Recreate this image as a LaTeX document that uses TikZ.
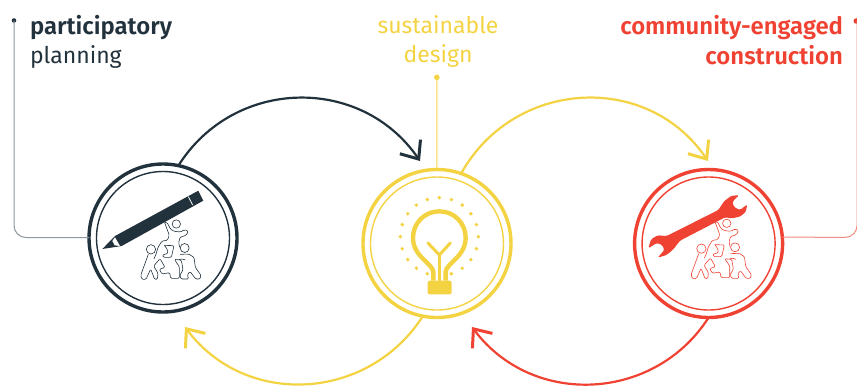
\documentclass[tikz,border=0pt]{standalone}
\usepackage{fontspec}
\setmainfont{Fira Sans SemiBold}
\newfontfamily\lightfont{Fira Sans}
\usetikzlibrary{arrows.meta}
\definecolor{cdark}{HTML}{22323D}
\definecolor{cyel}{HTML}{F4D343}
\definecolor{cred}{HTML}{F04232}
\definecolor{cgrey}{HTML}{8E989E}
\definecolor{cpink}{HTML}{F28B80}
\tikzset{
  outerring/.style={circle,draw=#1,line width=3.4pt,minimum size=148pt,inner sep=0pt,outer sep=0pt},
  innerring/.style={circle,draw=#1,line width=1.4pt,minimum size=133pt,inner sep=0pt,outer sep=0pt},
  flow/.style={draw=#1,line width=2.2pt,-{Straight Barb[length=15pt,width=25pt,line width=3pt]}},
  leader/.style={draw=#1,line width=1pt,rounded corners=12pt},
  enddot/.style={circle,fill=#1,inner sep=0pt,minimum size=5pt,outer sep=0pt},
  bigcap/.style={inner sep=0pt,outer sep=0pt,font=\fontsize{23.9pt}{29.5pt}\selectfont,text=#1},
  lightcap/.style={inner sep=0pt,outer sep=0pt,font=\fontsize{23pt}{29.5pt}\selectfont\lightfont,text=#1},
  pics/people/.style={code={
    \begin{scope}[scale=1/3,draw=#1,line width=0.6pt,rounded corners=1.2pt,line join=round]
      \draw (289,192) circle[radius=12.5];
      \draw (213,268) circle[radius=14];
      \draw (314,264) circle[radius=13.5];
      \draw (254,188) -- (261,187) -- (272,208) -- (283,214) -- (301,216) -- (314,209) -- (325,214) -- (318,226) -- (300,232) -- (296,248) -- (299,262);
      \draw (254,188) -- (268,226) -- (262,241) -- (246,243) -- (234,262) -- (228,283) -- (222,296);
      \draw (205,283) -- (182,346) -- (186,358) -- (198,358) -- (212,327) -- (224,358) -- (232,358) -- (234,340) -- (221,318) -- (240,296) -- (255,322) -- (238,328) -- (246,342) -- (269,338) -- (272,355) -- (298,355) -- (298,320) -- (283,298) -- (298,300) -- (304,296) -- (316,300);
      \draw (253,256) -- (282,257) -- (274,292) -- (250,292) -- (247,285) -- (264,280) -- (262,268) -- (253,256);
      \draw (300,283) -- (326,282) -- (342,292) -- (346,322) -- (363,346) -- (360,357) -- (347,357) -- (330,334) -- (322,345) -- (326,357) -- (304,357) -- (299,347) -- (309,330) -- (304,300) -- (298,300);
    \end{scope}
  }}
}
\begin{document}
\begin{tikzpicture}[x=1pt,y=-1pt]
\useasboundingbox (0,0) rectangle (857,386);
\clip (0,0) rectangle (857,386);

% rings
\node[outerring=cdark] (dark) at (163,238) {};
\node[innerring=cdark] (darkin) at (163,238) {};
\node[outerring=cyel] (yellow) at (437,243.5) {};
\node[innerring=cyel] (yellowin) at (437,243.5) {};
\node[outerring=cred] (red) at (708.6,243.5) {};
\node[innerring=cred] (redin) at (708.6,243.5) {};

% free ends of connectors
\coordinate (tipA) at (420,161);
\coordinate (tipB) at (708,161);
\coordinate (tipC) at (185,327);
\coordinate (tipD) at (472,327);

% connectors
\path[flow=cdark] (dark.78) .. controls (234,77.5) and (361,75) .. (tipA);
\path[flow=cyel] (yellow.71) .. controls (514,78.8) and (647.4,71.6) .. (tipB);
\path[flow=cyel] (yellow.259) .. controls (368,401.6) and (245.6,407.8) .. (tipC);
\path[flow=cred] (red.270) .. controls (655,401.6) and (532.6,407.8) .. (tipD);

% leaders
\node[enddot=cdark,minimum size=4.6pt] (dotA) at (14,20.5) {};
\node[enddot=cyel,minimum size=5.6pt] (dotB) at (436.8,77.3) {};
\node[enddot=cred,minimum size=5.6pt] (dotC) at (856.3,21) {};
\coordinate (cornerA) at (14,237.5);
\coordinate (cornerC) at (857,237.5);
\path[leader=cgrey] (dotA.center) -- (cornerA) -- (dark.west |- cornerA);
\path[leader=cyel] (dotB.center) -- (yellow.north);
\path[leader=cpink] (red.5) -- (cornerC) -- (dotC.center -| cornerC);

% captions
\node[bigcap=cdark,anchor=north west] (capA) at (30,15) {participatory};
\node[lightcap=cdark,anchor=north west] (capA2) at (30,45.5) {planning};
\node[lightcap=cyel,anchor=north,align=center] (capB) at (438,15.5) {sustainable\\design};
\node[bigcap=cred,anchor=north east,align=right] (capC) at (843,15.5) {community-engaged\\construction};

% pencil
\begin{scope}[shift={(80,160)},scale=1/3]
  \fill[cdark] (67,267) -- (105,228) -- (355,92) -- (370,122) -- (125,258) -- cycle;
  \fill[white] (105,232) -- (97,243) -- (104,256) -- (120,258) -- cycle;
  \draw[white,line width=0.8pt] (325,110) -- (338,135);
\end{scope}
\pic at (80,160) {people=cdark};

% bulb
\begin{scope}[shift={(355,160)},scale=1/3,cyel]
  \foreach \a in {0,18,...,342}{
    \ifnum\a=270\relax\else
      \fill ({253+117*cos(\a)},{230-117*sin(\a)}) circle[radius=5.8];
    \fi
  }
  \draw[line width=4.4pt,line join=round] (235,362) -- (235,335) .. controls (232,310) and (174,290) .. (174,233)
     .. controls (174,190) and (208,154) .. (253,154)
     .. controls (298,154) and (332,190) .. (332,233)
     .. controls (332,290) and (274,310) .. (272,335) -- (272,362);
  \draw[line width=3pt,line cap=round,line join=round] (219,249) -- (253,285) -- (286,249);
  \draw[line width=3pt] (253,285) -- (253,362);
  \fill[rounded corners=2pt] (218,362) rectangle (290,403);
\end{scope}

% wrench
\begin{scope}[shift={(625,160)},scale=1/3]
  \fill[cred,rounded corners=1.5pt] (70,265) -- (78,238) -- (98,226) -- (125,228) -- (280,150) -- (297,124) -- (318,108) -- (342,105) -- (322,126) -- (328,142) -- (345,150) -- (367,133) -- (362,156) -- (345,170) -- (320,175) -- (300,172) -- (165,242) -- (145,268) -- (125,285) -- (98,293) -- (118,270) -- (112,255) -- (95,249) -- cycle;
\end{scope}
\pic at (630.4,159.3) {people=cred};
\end{tikzpicture}
\end{document}
